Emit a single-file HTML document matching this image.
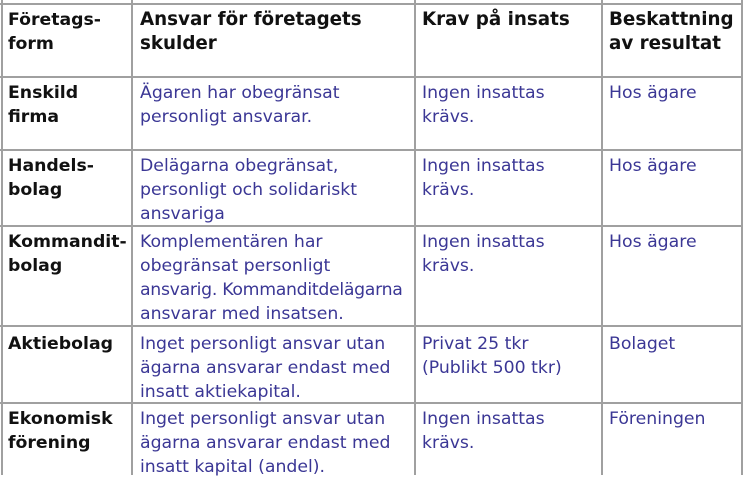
<!DOCTYPE html>
<html><head><meta charset="utf-8"><style>
body{margin:0;width:743px;height:475px;background:#fff;position:relative;overflow:hidden;font-family:"DejaVu Sans","Liberation Sans",sans-serif;}
.h{position:absolute;background:#a0a0a0;height:2px;left:0;width:743px}
.v{position:absolute;background:#a0a0a0;width:2px;top:0;height:475px}
.t{position:absolute;font-size:17.3px;line-height:24px;white-space:nowrap}
.k{color:#111;font-weight:bold;font-size:18.3px}
.c1{font-size:17.3px}
.b{color:#3b3795}
</style></head><body>
<div class="h" style="top:3px"></div>
<div class="h" style="top:76px"></div>
<div class="h" style="top:149px"></div>
<div class="h" style="top:225px"></div>
<div class="h" style="top:325px"></div>
<div class="h" style="top:402px"></div>
<div class="v" style="left:1px"></div>
<div class="v" style="left:131px"></div>
<div class="v" style="left:414px"></div>
<div class="v" style="left:601px"></div>
<div class="v" style="left:741px"></div>

<div class="t k c1" style="left:8px;top:8px">Företags-<br>form</div>
<div class="t k" style="left:140px;top:8px">Ansvar för företagets<br>skulder</div>
<div class="t k" style="left:422px;top:8px">Krav på insats</div>
<div class="t k" style="left:609px;top:8px">Beskattning<br>av resultat</div>

<div class="t k c1" style="left:8px;top:81px">Enskild<br>firma</div>
<div class="t b" style="left:140px;top:81px">Ägaren har obegränsat<br>personligt ansvarar.</div>
<div class="t b" style="left:422px;top:81px">Ingen insattas<br>krävs.</div>
<div class="t b" style="left:609px;top:81px">Hos ägare</div>

<div class="t k c1" style="left:8px;top:154px">Handels-<br>bolag</div>
<div class="t b" style="left:140px;top:154px">Delägarna obegränsat,<br>personligt och solidariskt<br>ansvariga</div>
<div class="t b" style="left:422px;top:154px">Ingen insattas<br>krävs.</div>
<div class="t b" style="left:609px;top:154px">Hos ägare</div>

<div class="t k c1" style="left:8px;top:230px">Kommandit-<br>bolag</div>
<div class="t b" style="left:140px;top:230px">Komplementären har<br>obegränsat personligt<br><span style="letter-spacing:-0.3px">ansvarig. Kommanditdelägarna</span><br>ansvarar med insatsen.</div>
<div class="t b" style="left:422px;top:230px">Ingen insattas<br>krävs.</div>
<div class="t b" style="left:609px;top:230px">Hos ägare</div>

<div class="t k c1" style="left:8px;top:332px">Aktiebolag</div>
<div class="t b" style="left:140px;top:332px">Inget personligt ansvar utan<br>ägarna ansvarar endast med<br>insatt aktiekapital.</div>
<div class="t b" style="left:422px;top:332px">Privat 25 tkr<br>(Publikt 500 tkr)</div>
<div class="t b" style="left:609px;top:332px">Bolaget</div>

<div class="t k c1" style="left:8px;top:407px">Ekonomisk<br>förening</div>
<div class="t b" style="left:140px;top:407px">Inget personligt ansvar utan<br>ägarna ansvarar endast med<br>insatt kapital (andel).</div>
<div class="t b" style="left:422px;top:407px">Ingen insattas<br>krävs.</div>
<div class="t b" style="left:609px;top:407px">Föreningen</div>
</body></html>
